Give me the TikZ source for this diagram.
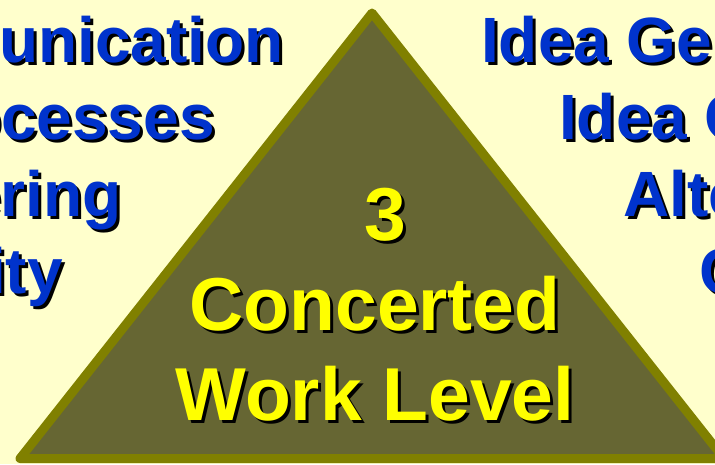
\documentclass[tikz,border=0pt]{standalone}
\usepackage{fontspec}
\setmainfont{Liberation Sans}
\definecolor{bg}{HTML}{FFFFCC}
\definecolor{olivefill}{HTML}{666633}
\definecolor{oliveedge}{HTML}{808000}
\definecolor{tblue}{HTML}{0033CC}
\definecolor{tyellow}{HTML}{FFFF00}
\newcommand{\shtxt}[5]{%
  \node[#1, text=black, anchor=#2, xshift=3pt, yshift=-3pt] (#3s) at (#4) {#5};
  \node[#1, anchor=#2] (#3) at (#4) {#5};}
\begin{document}
\begin{tikzpicture}[x=1pt,y=-1pt,
  bluetxt/.style={inner sep=0pt, font=\fontsize{64}{64}\selectfont\bfseries, text=tblue},
  yeltxt/.style={inner sep=0pt, font=\fontsize{75}{75}\selectfont\bfseries, text=tyellow},
  tri/.style={draw=oliveedge, fill=olivefill, line width=9pt, line join=round}]
\useasboundingbox (0,0) rectangle (715,464);
\fill[bg] (0,0) rectangle (715,464);
\clip (0,0) rectangle (715,464);
% triangle
\coordinate (apex) at (372,13);
\coordinate (bl) at (20,458.5);
\coordinate (br) at (724,458.5);
\draw[tri] (apex) -- (bl) -- (br) -- cycle;
% left text
\shtxt{bluetxt}{base east}{l1}{284,62}{unication}
\shtxt{bluetxt}{base east}{l2}{215,139}{ocesses}
\shtxt{bluetxt}{base east}{l3}{122,216}{ering}
\shtxt{bluetxt}{base east}{l4}{63,293}{ity}
% right text
\shtxt{bluetxt}{base west}{r1}{481,62}{Idea Ge}
\shtxt{bluetxt}{base west}{r2}{559,139}{Idea C}
\shtxt{bluetxt}{base west}{r3}{623,216}{Alte}
\shtxt{bluetxt}{base west}{r4}{699,293}{C}
% triangle text
\shtxt{yeltxt}{base}{t1}{385,240}{3}
\shtxt{yeltxt}{base}{t2}{375,330}{Concerted}
\shtxt{yeltxt}{base}{t3}{375,420}{Work Level}
\end{tikzpicture}
\end{document}
